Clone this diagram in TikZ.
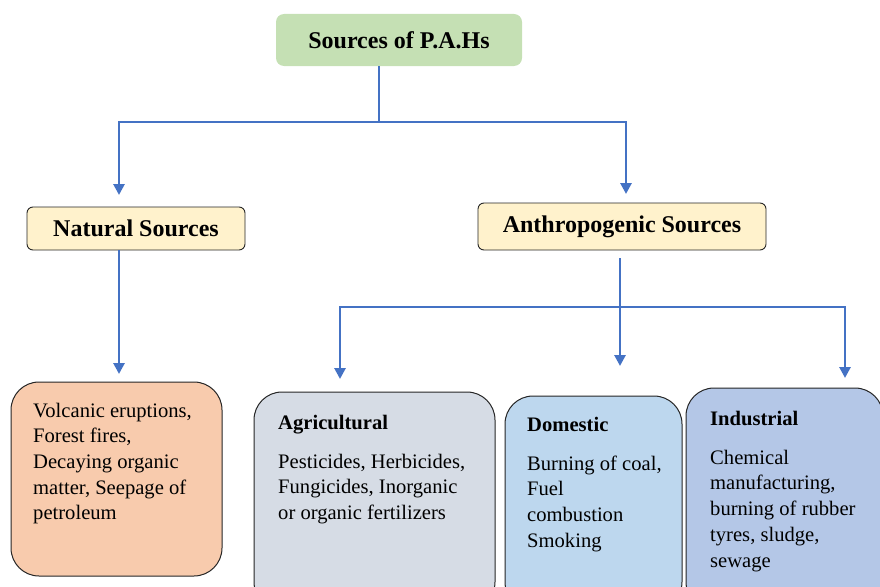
\documentclass[tikz,border=0pt]{standalone}
\usepackage{fontspec}
\setmainfont{Liberation Serif}
\usepackage{tikz}
\usepackage{xcolor}
\usetikzlibrary{arrows.meta,positioning,calc}
\definecolor{flow}{HTML}{4472C4}
\definecolor{edge}{HTML}{262626}
\definecolor{rootfill}{HTML}{C5E0B4}
\definecolor{catfill}{HTML}{FFF2CC}
\definecolor{natfill}{HTML}{F8CBAD}
\definecolor{agrifill}{HTML}{D6DCE5}
\definecolor{domfill}{HTML}{BDD7EE}
\definecolor{indfill}{HTML}{B4C7E7}
\tikzset{
  rootbox/.style={fill=rootfill, draw=none, rounded corners=8pt, inner sep=0pt,
                  font=\fontsize{24}{28}\selectfont\bfseries},
  catbox/.style={fill=catfill, draw=edge, rounded corners=6pt, line width=0.9pt,
                 inner sep=0pt, font=\fontsize{24}{28}\selectfont\bfseries},
  leafbox/.style={draw=edge, rounded corners=28pt, line width=1pt, inner sep=0pt},
  leaftext/.style={anchor=base west, align=left, inner sep=0pt,
                   font=\fontsize{20.6}{25.7}\selectfont, text=black},
  link/.style={draw=flow, line width=2.8pt},
  arrow/.style={-{Triangle[length=11pt,width=11pt]}, line width=2.8pt, draw=flow}
}
\begin{document}
\begin{tikzpicture}[x=1pt,y=-1pt]
        \clip (0,0) rectangle (880,586);
        % boxes
        \node[rootbox,minimum width=246pt,minimum height=52pt] (pah) at (399,40) {Sources of P.A.Hs};
        \node[catbox,minimum width=218pt,minimum height=43pt] (natural) at (136,228.5) {Natural Sources};
        \node[catbox,minimum width=288pt,minimum height=47pt] (anthro) at (622,226.5) {Anthropogenic Sources};
        \node[leafbox,fill=natfill,minimum width=211pt,minimum height=194pt] (volcbox) at (116.5,479) {};
        \node[leafbox,fill=agrifill,minimum width=241pt,minimum height=218pt] (agribox) at (374.5,501) {};
        \node[leafbox,fill=domfill,minimum width=177pt,minimum height=214pt] (dombox) at (593.5,503) {};
        \node[leafbox,fill=indfill,minimum width=197pt,minimum height=222pt] (indbox) at (784.5,499) {};
        % texts (anchored on the last baseline)
        \node[leaftext] (volctext) at (33,519.8) {Volcanic eruptions,\\Forest fires,\\Decaying organic\\matter, Seepage of\\petroleum};
        \node[leaftext] (agritext) at (278,519.6) {\textbf{Agricultural}\\[13.5pt]Pesticides, Herbicides,\\Fungicides, Inorganic\\or organic fertilizers};
        \node[leaftext] (domtext) at (527,547.3) {\textbf{Domestic}\\[13.5pt]Burning of coal,\\Fuel\\combustion\\Smoking};
        \node[leaftext] (indtext) at (710,567) {\textbf{Industrial}\\[13.5pt]Chemical\\manufacturing,\\burning of rubber\\tyres, sludge,\\sewage};
        % junctions and arrow tips
        \coordinate (hub) at (379,122);
        \coordinate (natTip) at (119,195);
        \coordinate (anthTip) at (626,194);
        \coordinate (volcTip) at (119,374);
        \coordinate (hub2) at (620,307);
        \coordinate (agriTip) at (340,379);
        \coordinate (domTip) at (620,366);
        \coordinate (indTip) at (845,378);
        % connectors
        \draw[link] (hub |- pah.south) -- (hub);
        \draw[arrow] (hub) -| (natTip);
        \draw[arrow] (hub) -| (anthTip);
        \draw[arrow] (natural.south -| volcTip) -- (volcTip);
        \draw[arrow] ([yshift=-8pt]anthro.south -| domTip) -- (domTip);
        \draw[arrow] (hub2) -| (agriTip);
        \draw[arrow] (hub2) -| (indTip);
      \end{tikzpicture}
\end{document}
